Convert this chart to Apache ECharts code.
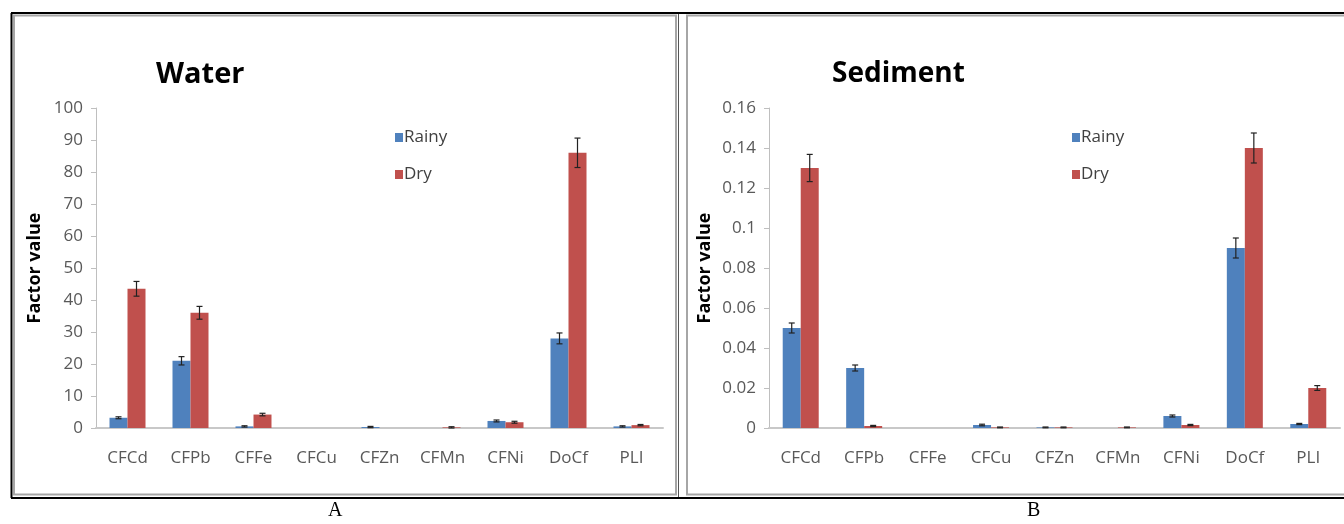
<!DOCTYPE html>
<html><head><meta charset="utf-8">
<script src="https://cdn.jsdelivr.net/npm/echarts@6/dist/echarts.min.js"></script>
<style>html,body{margin:0;padding:0;background:#fff}#c{width:1344px;height:524px}</style>
</head><body><div id="c"></div>
<script>
const categories = ['CFCd','CFPb','CFFe','CFCu','CFZn','CFMn','CFNi','DoCf','PLI'];
const waterRainy = [3.2, 21, 0.5, 0, 0.3, 0, 2.2, 28, 0.5];
const waterDry   = [43.5, 36, 4.2, 0, 0, 0.2, 1.8, 86, 0.9];
const waterRainyErr = [0.3, 1.3, 0.2, 0, 0.2, 0, 0.3, 1.7, 0.2];
const waterDryErr   = [2.3, 2.0, 0.4, 0, 0, 0.2, 0.3, 4.6, 0.2];
const sedRainy = [0.05, 0.03, 0, 0.0015, 0.0003, 0, 0.006, 0.09, 0.002];
const sedDry   = [0.13, 0.001, 0, 0.0003, 0.0003, 0.0003, 0.0015, 0.14, 0.02];
const sedRainyErr = [0.0025, 0.0015, 0, 0.0004, 0.0002, 0, 0.0005, 0.005, 0.0003];
const sedDryErr   = [0.0068, 0.0003, 0, 0.0002, 0.0002, 0.0002, 0.0003, 0.0075, 0.0012];
const waterTicks = [0,10,20,30,40,50,60,70,80,90,100];
const sedTicks = ['0','0.02','0.04','0.06','0.08','0.1','0.12','0.14','0.16'];

const BLUE = '#4F81BD', RED = '#C0504D';
const FONT = "'Open Sans', sans-serif";
const BW = 18;

function errData(vals, errs, s) {
  return vals.map((v, i) => [i, v, errs[i], s]);
}
function errSeries(gi, vals, errs, s) {
  return {
    type: 'custom', xAxisIndex: gi, yAxisIndex: gi, silent: true, z: 5,
    data: errData(vals, errs, s),
    encode: { x: 0, y: 1 },
    renderItem: function (params, api) {
      const idx = api.value(0), v = api.value(1), e = api.value(2), si = api.value(3);
      if (!e) return null;
      const c = api.coord([idx, v]);
      const x = c[0] + (si === 0 ? -BW / 2 : BW / 2);
      const yt = api.coord([idx, v + e])[1];
      const yb = api.coord([idx, Math.max(0, v - e)])[1];
      const st = { stroke: '#222', lineWidth: 1.2 };
      return { type: 'group', children: [
        { type: 'line', shape: { x1: x, y1: yt, x2: x, y2: yb }, style: st },
        { type: 'line', shape: { x1: x - 3, y1: yt, x2: x + 3, y2: yt }, style: st },
        { type: 'line', shape: { x1: x - 3, y1: yb, x2: x + 3, y2: yb }, style: st }
      ]};
    }
  };
}
function xAxis(gi) {
  return {
    type: 'category', gridIndex: gi, data: categories,
    axisLine: { show: true, lineStyle: { color: '#C8C8C8', width: 2 } },
    axisTick: { show: false },
    axisLabel: { color: '#595959', fontSize: 17, fontFamily: FONT, margin: 22, interval: 0 }
  };
}
function yAxis(gi, max, interval, fmt, nameGap) {
  return {
    type: 'value', gridIndex: gi, min: 0, max: max, interval: interval,
    name: 'Factor value', nameLocation: 'middle', nameRotate: 90, nameGap: nameGap,
    nameTextStyle: { fontFamily: FONT, fontWeight: 'bold', fontSize: 18, color: '#000' },
    axisLine: { show: true, lineStyle: { color: '#BFBFBF', width: 1 } },
    axisTick: { show: true, length: 5, lineStyle: { color: '#BFBFBF' } },
    splitLine: { show: false },
    axisLabel: { color: '#595959', fontSize: 17, fontFamily: FONT, margin: 13, formatter: fmt }
  };
}
const sedFmt = v => sedTicks[Math.round(v / 0.02)];
const waterFmt = v => String(waterTicks[Math.round(v / 10)]);

function legend(left) {
  return {
    orient: 'vertical', left: left, top: 124, itemGap: 20,
    itemWidth: 8, itemHeight: 9, icon: 'rect',
    data: ['Rainy', 'Dry'],
    textStyle: { fontFamily: FONT, fontSize: 17, color: '#404040', padding: [0, 0, 0, -4] }
  };
}

const option = {
  animation: false,
  color: [BLUE, RED],
  title: [
    { text: 'Water', left: 151, top: 55, textStyle: { fontFamily: FONT, fontWeight: 'bold', fontSize: 29, color: '#000' } },
    { text: 'Sediment', left: 827, top: 55, textStyle: { fontFamily: FONT, fontWeight: 'bold', fontSize: 28, color: '#000' } }
  ],
  legend: [legend(390), legend(1067)],
  grid: [
    { left: 96, top: 108, width: 567, height: 320 },
    { left: 769, top: 108, width: 571, height: 320 }
  ],
  xAxis: [xAxis(0), xAxis(1)],
  yAxis: [yAxis(0, 100, 10, waterFmt, 52), yAxis(1, 0.16, 0.02, sedFmt, 55)],
  series: [
    { name: 'Rainy', type: 'bar', xAxisIndex: 0, yAxisIndex: 0, data: waterRainy, barWidth: BW, barGap: '0%', itemStyle: { color: BLUE } },
    { name: 'Dry', type: 'bar', xAxisIndex: 0, yAxisIndex: 0, data: waterDry, barWidth: BW, barGap: '0%', itemStyle: { color: RED } },
    { name: 'Rainy', type: 'bar', xAxisIndex: 1, yAxisIndex: 1, data: sedRainy, barWidth: BW, barGap: '0%', itemStyle: { color: BLUE } },
    { name: 'Dry', type: 'bar', xAxisIndex: 1, yAxisIndex: 1, data: sedDry, barWidth: BW, barGap: '0%', itemStyle: { color: RED } },
    errSeries(0, waterRainy, waterRainyErr, 0),
    errSeries(0, waterDry, waterDryErr, 1),
    errSeries(1, sedRainy, sedRainyErr, 0),
    errSeries(1, sedDry, sedDryErr, 1)
  ],
  graphic: [
    { type: 'rect', shape: { x: 14, y: 15.5, width: 662, height: 479 }, style: { fill: 'none', stroke: '#A6A6A6', lineWidth: 2 }, z: 1 },
    { type: 'rect', shape: { x: 687, y: 15.5, width: 680, height: 479 }, style: { fill: 'none', stroke: '#A6A6A6', lineWidth: 2 }, z: 1 },
    { type: 'line', shape: { x1: 678.5, y1: 13, x2: 678.5, y2: 498 }, style: { stroke: '#555', lineWidth: 1 }, z: 2 },
    { type: 'line', shape: { x1: 11, y1: 13, x2: 1344, y2: 13 }, style: { stroke: '#000', lineWidth: 2 }, z: 2 },
    { type: 'line', shape: { x1: 11, y1: 498, x2: 1344, y2: 498 }, style: { stroke: '#000', lineWidth: 2 }, z: 2 },
    { type: 'line', shape: { x1: 11.5, y1: 13, x2: 11.5, y2: 498 }, style: { stroke: '#000', lineWidth: 2 }, z: 2 },
    { type: 'text', left: 328, top: 501, style: { text: 'A', fontFamily: "'Liberation Serif', serif", fontSize: 20, fill: '#000' } },
    { type: 'text', left: 1027, top: 501, style: { text: 'B', fontFamily: "'Liberation Serif', serif", fontSize: 20, fill: '#000' } }
  ]
};
const chart = echarts.init(document.getElementById('c'), null, { renderer: 'canvas' });
chart.setOption(option);
</script></body></html>
